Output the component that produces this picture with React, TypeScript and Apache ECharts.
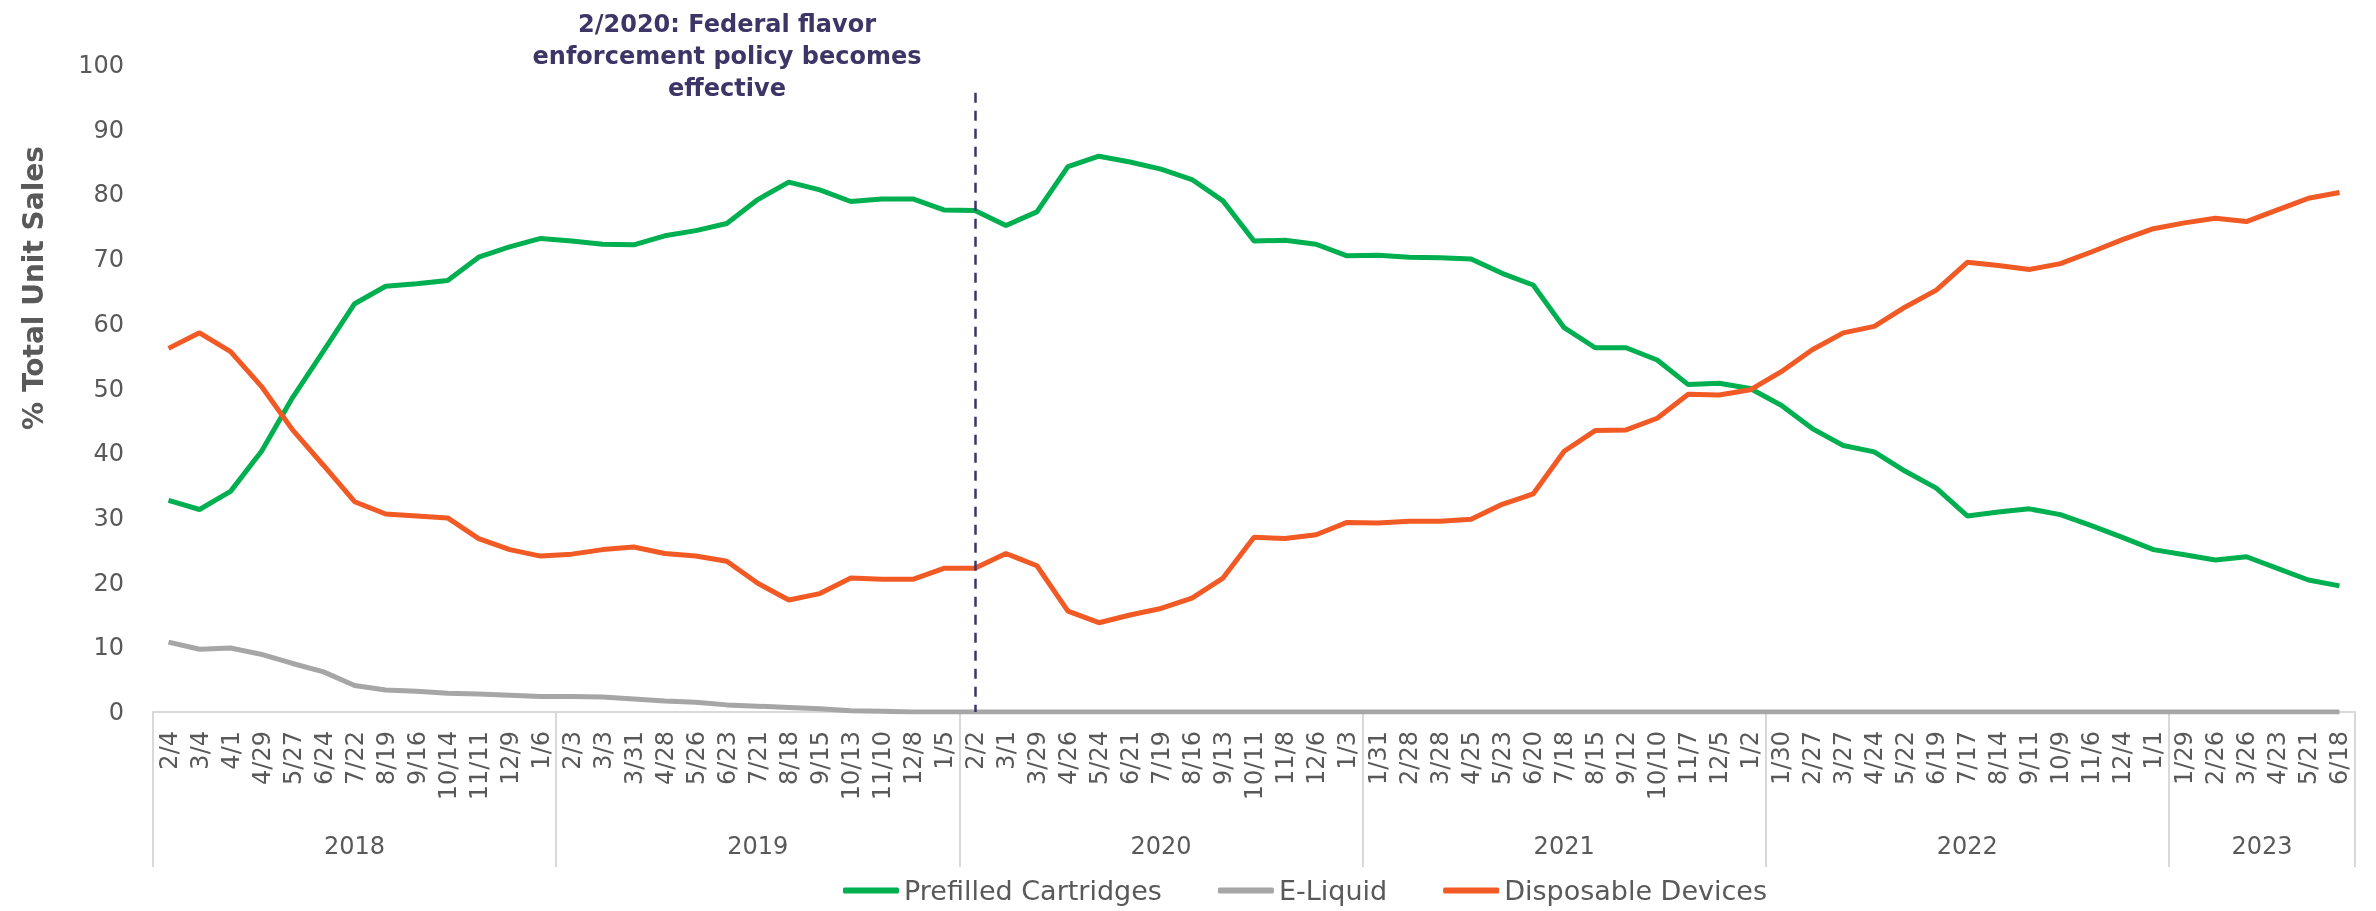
import React, { useEffect, useRef } from "react";
import * as echarts from "echarts";

// ---- Data ----
const years = ["2018", "2019", "2020", "2021", "2022", "2023"];
const dates2018 = ["2/4", "3/4", "4/1", "4/29", "5/27", "6/24", "7/22", "8/19", "9/16", "10/14", "11/11", "12/9", "1/6"];
const dates2019 = ["2/3", "3/3", "3/31", "4/28", "5/26", "6/23", "7/21", "8/18", "9/15", "10/13", "11/10", "12/8", "1/5"];
const dates2020 = ["2/2", "3/1", "3/29", "4/26", "5/24", "6/21", "7/19", "8/16", "9/13", "10/11", "11/8", "12/6", "1/3"];
const dates2021 = ["1/31", "2/28", "3/28", "4/25", "5/23", "6/20", "7/18", "8/15", "9/12", "10/10", "11/7", "12/5", "1/2"];
const dates2022 = ["1/30", "2/27", "3/27", "4/24", "5/22", "6/19", "7/17", "8/14", "9/11", "10/9", "11/6", "12/4", "1/1"];
const dates2023 = ["1/29", "2/26", "3/26", "4/23", "5/21", "6/18"];
const yearDates = [dates2018, dates2019, dates2020, dates2021, dates2022, dates2023];
const categories = yearDates.flat();

const prefilledCartridges = [
  32.7, 31.3, 34.1, 40.3, 48.6, 55.8, 63.1, 65.8, 66.2, 66.7, 70.3, 71.9, 73.2,
  72.8, 72.3, 72.2, 73.6, 74.4, 75.5, 79.2, 81.9, 80.7, 78.9, 79.3, 79.3, 77.6,
  77.5, 75.2, 77.3, 84.3, 85.9, 85.0, 83.9, 82.3, 79.0, 72.8, 72.9, 72.3, 70.5,
  70.6, 70.3, 70.2, 70.0, 67.8, 66.0, 59.4, 56.3, 56.3, 54.4, 50.6, 50.8, 50.0,
  47.4, 43.8, 41.2, 40.2, 37.2, 34.6, 30.3, 30.9, 31.4, 30.5, 28.8, 27.0, 25.1,
  24.3, 23.5, 24.0, 22.2, 20.4, 19.5,
];
const eLiquid = [
  10.8, 9.7, 9.9, 8.9, 7.5, 6.2, 4.1, 3.4, 3.2, 2.9, 2.8, 2.6, 2.4,
  2.4, 2.3, 2.0, 1.7, 1.5, 1.1, 0.9, 0.7, 0.5, 0.2, 0.1, 0, 0,
  0, 0, 0, 0, 0, 0, 0, 0, 0, 0, 0, 0, 0,
  0, 0, 0, 0, 0, 0, 0, 0, 0, 0, 0, 0, 0,
  0, 0, 0, 0, 0, 0, 0, 0, 0, 0, 0, 0, 0,
  0, 0, 0, 0, 0, 0,
];
const disposableDevices = [
  56.2, 58.6, 55.7, 50.3, 43.6, 38.1, 32.5, 30.6, 30.3, 30.0, 26.8, 25.1, 24.1,
  24.4, 25.1, 25.5, 24.5, 24.1, 23.3, 19.9, 17.3, 18.3, 20.7, 20.5, 20.5, 22.2,
  22.2, 24.5, 22.6, 15.6, 13.8, 15.0, 16.0, 17.6, 20.7, 27.0, 26.8, 27.4, 29.3,
  29.2, 29.5, 29.5, 29.8, 32.1, 33.7, 40.3, 43.5, 43.6, 45.4, 49.1, 49.0, 49.8,
  52.6, 56.0, 58.6, 59.6, 62.6, 65.2, 69.5, 69.0, 68.4, 69.3, 71.1, 73.0, 74.7,
  75.6, 76.3, 75.8, 77.6, 79.4, 80.3,
];

const seriesNames = ["Prefilled Cartridges", "E-Liquid", "Disposable Devices"];
const policyDate = "2/2";
const policyLineTop = 95.7;
const policyText = "2/2020: Federal flavor\nenforcement policy becomes\neffective";
const yAxisTitle = "% Total Unit Sales";

const FONT = "'DejaVu Sans', Verdana, sans-serif";
const TEXT = "#595959";
const COLORS = ["#00B050", "#A6A6A6", "#F15A24"];
const ANNOT = "#3E3567";

export default function App() {
  const ref = useRef<HTMLDivElement>(null);

  useEffect(() => {
    if (!ref.current) return;
    const chart = echarts.init(ref.current, null, { renderer: "svg" });

    const boundaries: number[] = [0];
    yearDates.forEach((d) => boundaries.push(boundaries[boundaries.length - 1] + d.length));
    const yearCenters = yearDates.map((d, i) => boundaries[i] + d.length / 2);

    const values = [prefilledCartridges, eLiquid, disposableDevices];

    const option: any = {
      animation: false,
      grid: { left: 153, right: 21, top: 65, bottom: 199 },
      xAxis: [
        {
          type: "category",
          data: categories,
          boundaryGap: true,
          axisLine: { lineStyle: { color: "#D9D9D9", width: 2 } },
          axisTick: { show: false },
          axisLabel: {
            rotate: 90,
            interval: 0,
            margin: 19,
            fontSize: 24,
            color: TEXT,
            fontFamily: FONT,
          },
          splitLine: { show: false },
        },
        {
          type: "value",
          min: 0,
          max: categories.length,
          position: "bottom",
          axisLine: { show: false },
          axisTick: {
            show: true,
            customValues: boundaries,
            length: 155,
            lineStyle: { color: "#D9D9D9", width: 2 },
          },
          axisLabel: {
            customValues: yearCenters,
            margin: 122,
            fontSize: 24,
            color: TEXT,
            fontFamily: FONT,
            formatter: (v: number) => {
              const i = yearCenters.findIndex((c) => Math.abs(c - v) < 1e-6);
              return i >= 0 ? years[i] : "";
            },
          },
          splitLine: { show: false },
        },
      ],
      yAxis: {
        type: "value",
        min: 0,
        max: 100,
        interval: 10,
        splitLine: { show: false },
        axisLine: { show: false },
        axisTick: { show: false },
        axisLabel: { margin: 29, fontSize: 24, color: TEXT, fontFamily: FONT },
      },
      legend: {
        left: 838,
        top: 872,
        itemWidth: 56,
        itemHeight: 6,
        itemGap: 56,
        icon: "roundRect",
        data: seriesNames,
        textStyle: { fontSize: 27, color: TEXT, fontFamily: FONT },
      },
      series: seriesNames.map((name, i) => ({
        name,
        type: "line",
        data: values[i],
        xAxisIndex: 0,
        yAxisIndex: 0,
        symbol: "none",
        lineStyle: { width: 5, color: COLORS[i] },
        itemStyle: { color: COLORS[i] },
        ...(i === 0
          ? {
              markLine: {
                silent: true,
                symbol: ["none", "none"],
                label: { show: false },
                lineStyle: { type: [10, 8], color: ANNOT, width: 2.5 },
                data: [[{ coord: [policyDate, policyLineTop] }, { coord: [policyDate, 0] }]],
              },
            }
          : {}),
      })),
      graphic: [
        {
          type: "text",
          x: 727,
          y: 8,
          style: {
            text: policyText,
            textAlign: "center",
            fontSize: 24,
            fontWeight: "bold",
            fontFamily: FONT,
            lineHeight: 32,
            fill: ANNOT,
          },
        },
        {
          type: "text",
          x: 33,
          y: 288,
          rotation: Math.PI / 2,
          style: {
            text: yAxisTitle,
            textAlign: "center",
            textVerticalAlign: "middle",
            fontSize: 28,
            fontWeight: "bold",
            fontFamily: FONT,
            fill: TEXT,
          },
        },
      ],
    };

    chart.setOption(option);
    return () => chart.dispose();
  }, []);

  return (
    <div
      ref={ref}
      style={{ position: "fixed", left: 0, top: 0, width: 2376, height: 911 }}
    />
  );
}
